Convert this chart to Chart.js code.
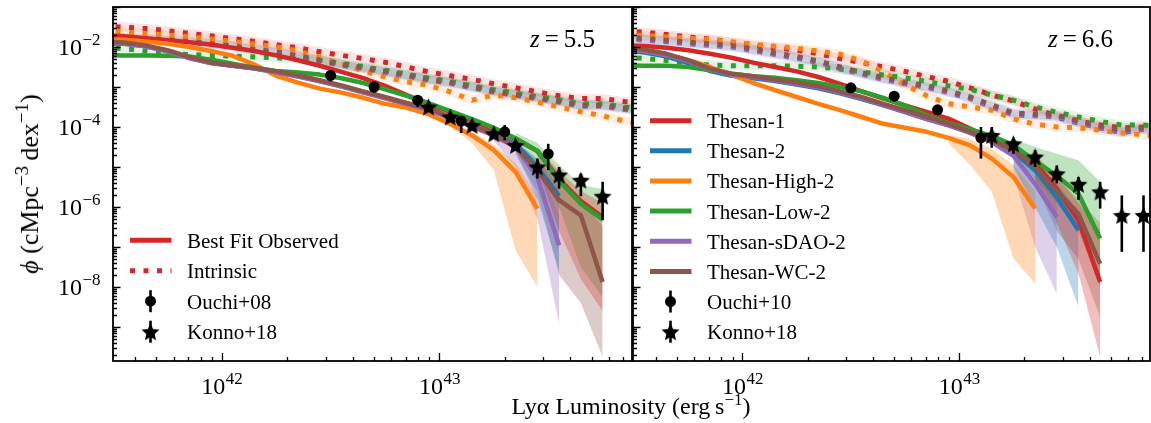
<!DOCTYPE html>
<html>
<head>
<meta charset="utf-8">
<script src="https://cdn.jsdelivr.net/npm/chart.js@4.4.0/dist/chart.umd.min.js"></script>
<style>
  body { margin: 0; background: #fff; }
  #fig { position: relative; width: 1151px; height: 423px; font-family: "Liberation Serif", "Times New Roman", serif; }
  #fig canvas { position: absolute; top: 0; }
  #c55 { left: 0; }
  #c66 { left: 632px; }
  #xtitle { position: absolute; left: 631px; top: 393px; transform: translateX(-50%); font-size: 24px; white-space: nowrap; }
  #xtitle sup { font-size: 17px; vertical-align: 9px; line-height: 0; }
  #ytitle { position: absolute; left: 30px; top: 184px; transform: translate(-50%, -50%) rotate(-90deg); font-size: 26px; white-space: nowrap; }
  #ytitle sup { font-size: 19px; vertical-align: 10px; line-height: 0; }
</style>
</head>
<body>
<div id="fig">
  <canvas id="c55" width="633" height="423"></canvas>
  <canvas id="c66" width="519" height="423"></canvas>
  <div id="xtitle">Ly&alpha; Luminosity (erg&#8201;s<sup>&minus;1</sup>)</div>
  <div id="ytitle"><i>&#981;</i> (cMpc<sup>&minus;3</sup>&#8201;dex<sup>&minus;1</sup>)</div>
</div>
<script>
// luminosity bin centres, log10(L / erg s^-1)
const logL = [41.45, 41.55, 41.65, 41.75, 41.85, 41.95, 42.05, 42.15, 42.25, 42.35, 42.45, 42.55, 42.65,
              42.75, 42.85, 42.95, 43.05, 43.15, 43.25, 43.35, 43.45, 43.55, 43.65, 43.75, 43.85, 43.95];
// bins where the scatter bands are wide
const bandL = [42.95, 43.05, 43.15, 43.25, 43.35, 43.45, 43.55, 43.65, 43.75];

const modelNames = ['Thesan-1', 'Thesan-2', 'Thesan-High-2', 'Thesan-Low-2', 'Thesan-sDAO-2', 'Thesan-WC-2'];
const modelColors = ['#d62728', '#1f77b4', '#ff7f0e', '#2ca02c', '#9467bd', '#8c564b'];
const redshifts = ['5.5', '6.6'];
const xLabelExps = [42, 43];
const yLabelExps = [-2, -4, -6, -8];

// ---- z = 5.5, observed LF, log10 phi ----
const obs55_1 = [-1.71, -1.73, -1.78, -1.83, -1.88, -1.94, -2.02, -2.1, -2.21, -2.33, -2.47, -2.62, -2.78, -2.97, -3.2, -3.42, -3.62, -3.84, -4.06, -4.3, -4.6, -5.3, -5.85, -6.25, null, null];
const obs55_2 = [-1.9, -1.92, -1.98, -2.1, -2.27, -2.4, -2.47, -2.54, -2.63, -2.73, -2.85, -2.98, -3.13, -3.27, -3.42, -3.55, -3.76, -3.97, -4.18, -4.42, -5.0, -5.73, null, null, null, null];
const obs55_3 = [-1.8, -1.82, -1.86, -1.92, -2.0, -2.1, -2.22, -2.44, -2.72, -2.89, -3.04, -3.14, -3.27, -3.42, -3.52, -3.68, -3.92, -4.21, -4.58, -5.12, -6.04, null, null, null, null, null];
const obs55_4 = [-2.2, -2.21, -2.21, -2.22, -2.24, -2.32, -2.42, -2.52, -2.6, -2.64, -2.69, -2.78, -2.9, -3.06, -3.22, -3.4, -3.6, -3.8, -4.02, -4.28, -4.6, -5.35, -5.92, -6.31, null, null];
const obs55_5 = [-1.88, -1.91, -1.98, -2.11, -2.28, -2.4, -2.47, -2.53, -2.63, -2.74, -2.86, -2.99, -3.14, -3.28, -3.43, -3.57, -3.78, -3.99, -4.22, -4.5, -5.25, -6.96, null, null, null, null];
const obs55_6 = [-1.86, -1.89, -1.96, -2.08, -2.25, -2.39, -2.46, -2.52, -2.61, -2.71, -2.83, -2.96, -3.11, -3.25, -3.4, -3.53, -3.75, -3.96, -4.17, -4.5, -5.08, -5.83, -6.21, -7.875, null, null];

// ---- z = 5.5, intrinsic LF ----
const int55_1 = [-1.48, -1.5, -1.54, -1.59, -1.66, -1.72, -1.79, -1.86, -1.94, -2.02, -2.12, -2.21, -2.29, -2.38, -2.5, -2.62, -2.72, -2.81, -2.92, -3.02, -3.12, -3.22, -3.29, -3.29, -3.36, -3.4];
const int55_2 = [-1.74, -1.76, -1.79, -1.82, -1.87, -1.92, -1.98, -2.06, -2.13, -2.23, -2.33, -2.43, -2.52, -2.61, -2.7, -2.79, -2.88, -2.98, -3.09, -3.18, -3.26, -3.35, -3.44, -3.45, -3.52, -3.58];
const int55_3 = [-1.6, -1.63, -1.66, -1.7, -1.74, -1.8, -1.86, -1.93, -2.0, -2.1, -2.26, -2.42, -2.6, -2.75, -2.87, -2.96, -3.12, -3.33, -3.2, -3.27, -3.38, -3.5, -3.62, -3.72, -3.85, -3.95];
const int55_4 = [-2.02, -2.04, -2.1, -2.15, -2.19, -2.21, -2.23, -2.25, -2.27, -2.3, -2.33, -2.41, -2.49, -2.58, -2.68, -2.78, -2.86, -2.97, -3.07, -3.15, -3.24, -3.32, -3.42, -3.42, -3.5, -3.55];
const int55_5 = [-1.77, -1.79, -1.81, -1.84, -1.88, -1.94, -2.0, -2.08, -2.15, -2.25, -2.35, -2.46, -2.54, -2.63, -2.73, -2.83, -2.91, -3.02, -3.13, -3.21, -3.29, -3.38, -3.48, -3.48, -3.56, -3.62];
const int55_6 = [-1.75, -1.77, -1.79, -1.82, -1.86, -1.92, -1.97, -2.06, -2.12, -2.22, -2.33, -2.44, -2.52, -2.61, -2.71, -2.81, -2.89, -3.0, -3.11, -3.19, -3.27, -3.36, -3.46, -3.46, -3.54, -3.6];

// ---- z = 5.5, scatter band (on bandL) ----
const hi55_1 = [null, null, null, null, null, -4.5, -5.1, -5.6, -5.9];
const lo55_1 = [null, null, null, null, null, -5.0, -6.6, -7.8, -8.6];
const hi55_2 = [null, null, null, null, -4.35, -4.8, -5.4, null, null];
const lo55_2 = [null, null, null, null, -4.6, -5.8, -7.6, null, null];
const hi55_3 = [-3.6, -3.85, -4.12, -4.45, -4.9, -5.75, null, null, null];
const lo55_3 = [-3.75, -4.0, -4.4, -5.08, -7.08, -8.0, null, null, null];
const hi55_4 = [null, null, null, null, -4.15, -4.4, -4.95, -5.45, -5.55];
const lo55_4 = [null, null, null, null, -4.45, -5.0, -6.0, -7.5, -8.25];
const hi55_5 = [null, null, null, -4.15, -4.4, -4.9, -6.2, null, null];
const lo55_5 = [null, null, null, -4.35, -5.0, -6.3, -8.92, null, null];
const hi55_6 = [null, null, null, null, -4.4, -4.8, -5.5, -5.8, -6.5];
const lo55_6 = [null, null, null, null, -4.7, -5.6, -7.7, -8.4, -9.75];

// ---- z = 6.6, observed LF ----
const obs66_1 = [-1.95, -1.975, -2.02, -2.08, -2.17, -2.27, -2.39, -2.5, -2.61, -2.75, -2.92, -3.11, -3.29, -3.46, -3.62, -3.79, -4.04, -4.3, -4.52, -4.9, -5.55, -6.33, -7.875, null, null, null];
const obs66_2 = [-2.08, -2.14, -2.24, -2.4, -2.6, -2.72, -2.78, -2.85, -2.94, -3.03, -3.16, -3.3, -3.46, -3.63, -3.8, -3.95, -4.12, -4.33, -4.62, -5.08, -5.75, -6.58, null, null, null, null];
const obs66_3 = [-2.03, -2.1, -2.2, -2.33, -2.5, -2.7, -2.9, -3.08, -3.25, -3.42, -3.58, -3.75, -3.92, -4.02, -4.12, -4.27, -4.46, -4.79, -5.25, -6.04, null, null, null, null, null, null];
const obs66_4 = [-2.46, -2.47, -2.47, -2.5, -2.58, -2.67, -2.73, -2.77, -2.83, -2.9, -3.0, -3.11, -3.27, -3.46, -3.71, -3.9, -4.06, -4.22, -4.45, -4.85, -5.22, -5.67, -6.79, null, null, null];
const obs66_5 = [-2.02, -2.1, -2.2, -2.36, -2.56, -2.69, -2.75, -2.83, -2.92, -3.01, -3.14, -3.28, -3.45, -3.62, -3.8, -3.96, -4.15, -4.38, -4.72, -5.42, -6.25, null, null, null, null, null];
const obs66_6 = [-2.0, -2.07, -2.17, -2.33, -2.54, -2.67, -2.73, -2.81, -2.89, -2.98, -3.11, -3.25, -3.42, -3.58, -3.75, -3.92, -4.12, -4.33, -4.58, -5.0, -5.6, -6.17, -7.42, null, null, null];

// ---- z = 6.6, intrinsic LF ----
const int66_1 = [-1.6, -1.63, -1.69, -1.75, -1.8, -1.88, -1.96, -2.02, -2.08, -2.17, -2.29, -2.39, -2.5, -2.61, -2.74, -2.86, -3.02, -3.2, -3.35, -3.55, -3.72, -3.85, -3.95, -4.02, -4.0, -4.05];
const int66_2 = [-1.77, -1.81, -1.85, -1.9, -1.94, -1.98, -2.07, -2.17, -2.26, -2.37, -2.52, -2.66, -2.79, -2.9, -2.99, -3.12, -3.27, -3.47, -3.66, -3.7, -3.76, -3.9, -4.02, -4.14, -4.06, -4.1];
const int66_3 = [-1.68, -1.72, -1.75, -1.78, -1.82, -1.87, -1.93, -1.98, -2.03, -2.1, -2.18, -2.35, -2.62, -2.95, -3.22, -3.42, -3.5, -3.58, -3.8, -3.93, -4.0, -4.02, -4.08, -4.15, -4.2, -4.22];
const int66_4 = [-2.25, -2.29, -2.34, -2.4, -2.45, -2.47, -2.47, -2.47, -2.48, -2.5, -2.55, -2.62, -2.7, -2.77, -2.86, -2.97, -3.06, -3.2, -3.33, -3.5, -3.63, -3.75, -3.86, -3.95, -3.95, -4.0];
const int66_5 = [-1.79, -1.83, -1.87, -1.92, -1.96, -2.0, -2.09, -2.19, -2.28, -2.39, -2.54, -2.68, -2.81, -2.92, -3.01, -3.14, -3.29, -3.5, -3.7, -3.72, -3.74, -3.89, -4.03, -4.12, -4.06, -4.1];
const int66_6 = [-1.75, -1.79, -1.83, -1.88, -1.92, -1.96, -2.05, -2.15, -2.24, -2.35, -2.5, -2.64, -2.77, -2.88, -2.97, -3.1, -3.25, -3.45, -3.65, -3.68, -3.7, -3.85, -3.98, -4.08, -4.02, -4.05];

// ---- z = 6.6, scatter band (on bandL) ----
const hi66_1 = [null, null, null, null, -4.7, -5.2, -5.9, -6.6, null];
const lo66_1 = [null, null, null, null, -5.3, -6.4, -7.67, -9.75, null];
const hi66_2 = [null, null, null, -4.5, -4.9, -5.4, -6.1, null, null];
const lo66_2 = [null, null, null, -5.0, -6.0, -7.0, -8.5, null, null];
const hi66_3 = [-4.2, -4.3, -4.55, -4.95, -5.6, null, null, null, null];
const lo66_3 = [-4.4, -4.95, -5.62, -7.29, -7.92, null, null, null, null];
const hi66_4 = [null, null, null, -4.3, -4.5, -4.67, -4.83, -5.37, null];
const lo66_4 = [null, null, null, -4.7, -5.3, -5.9, -6.6, -8.0, null];
const hi66_5 = [null, null, null, -4.6, -5.1, -5.7, null, null, null];
const lo66_5 = [null, null, null, -5.2, -7.0, -8.17, null, null, null];
const hi66_6 = [null, null, null, null, -4.8, -5.3, -5.8, -6.4, null];
const lo66_6 = [null, null, null, null, -5.4, -6.6, -7.3, -8.75, null];

// ---- observations (log10 L, log10 phi, error-bar ends) ----
const ouchi08L = [42.5, 42.7, 42.9, 43.1, 43.3, 43.5];
const ouchi08Phi = [-2.71, -3.0, -3.33, -3.85, -4.12, -4.67];
const ouchi08Hi = [-2.58, -2.86, -3.21, -3.78, -3.95, -4.42];
const ouchi08Lo = [-2.86, -3.14, -3.5, -4.15, -4.33, -5.08];

const konno57L = [42.95, 43.05, 43.15, 43.25, 43.35, 43.45, 43.55, 43.65, 43.75];
const konno57Phi = [-3.5, -3.75, -3.96, -4.17, -4.46, -5.0, -5.2, -5.33, -5.73];
const konno57Hi = [-3.42, -3.67, -3.88, -4.08, -4.36, -4.79, -5.0, -5.17, -5.37];
const konno57Lo = [-3.58, -3.84, -4.05, -4.27, -4.58, -5.29, -5.54, -5.73, -6.33];

const ouchi10L = [42.5, 42.7, 42.9, 43.1];
const ouchi10Phi = [-3.02, -3.23, -3.57, -4.27];
const ouchi10Hi = [-3.0, -3.21, -3.55, -4.0];
const ouchi10Lo = [-3.04, -3.25, -3.59, -4.79];

const konno66L = [43.15, 43.25, 43.35, 43.45, 43.55, 43.65, 43.75, 43.85];
const konno66Phi = [-4.21, -4.42, -4.75, -5.17, -5.43, -5.62, -6.21, -6.21];
const konno66Hi = [-4.0, -4.33, -4.58, -4.96, -5.25, -5.37, -5.71, -5.71];
const konno66Lo = [-4.52, -4.67, -5.0, -5.41, -5.82, -6.04, -7.12, -7.12];

const FONT = '"Liberation Serif", "Times New Roman", serif';

function pts(xs, ys) {
  const out = [];
  ys.forEach((v, i) => { if (v !== null) out.push({ x: 10 ** xs[i], y: 10 ** v }); });
  return out;
}

function rgba(hex, a) {
  const n = parseInt(hex.slice(1), 16);
  return `rgba(${n >> 16},${(n >> 8) & 255},${n & 255},${a})`;
}

// filled five-point star used as marker
function makeStar(r) {
  const c = document.createElement('canvas');
  const s = Math.ceil(2 * r + 2);
  c.width = c.height = s;
  const g = c.getContext('2d');
  g.translate(s / 2, s / 2 + 0.9);
  g.beginPath();
  for (let i = 0; i < 10; i++) {
    const rr = i % 2 ? r * 0.46 : r;
    const a = -Math.PI / 2 + i * Math.PI / 5;
    g.lineTo(rr * Math.cos(a), rr * Math.sin(a));
  }
  g.closePath();
  g.fillStyle = '#000';
  g.fill();
  return c;
}
const starImg = makeStar(9.5);

function buildDatasets(obsRows, intRows, hiRows, loRows, circ, stars) {
  const sets = [];
  modelColors.forEach((c, m) => {
    sets.push({ data: pts(bandL, hiRows[m]), borderWidth: 0, borderColor: 'transparent',
                backgroundColor: rgba(c, 0.3), fill: '+1', pointRadius: 0, order: 300, clip: 0 });
    sets.push({ data: pts(bandL, loRows[m]), borderWidth: 0, borderColor: 'transparent',
                fill: false, pointRadius: 0, order: 300, clip: 0 });
  });
  modelColors.forEach((c, m) => {
    // faint spread around the intrinsic curve
    sets.push({ data: pts(logL, intRows[m]), borderColor: rgba(c, 0.12), borderWidth: 9,
                borderJoinStyle: 'round', pointRadius: 0, fill: false, order: 250, clip: 0 });
    sets.push({ data: pts(logL, intRows[m]), borderColor: c, borderWidth: 5, borderDash: [5, 8.5],
                borderCapStyle: 'butt', pointRadius: 0, fill: false, order: 200 - m, clip: 0 });
  });
  modelColors.forEach((c, m) => {
    sets.push({ data: pts(logL, obsRows[m]), borderColor: c, borderWidth: 4.5, borderJoinStyle: 'round',
                pointRadius: 0, fill: false, order: 100 - m, clip: 0 });
  });
  sets.push({ data: pts(circ.L, circ.phi), showLine: false, pointStyle: 'circle', pointRadius: 5.5,
              pointBackgroundColor: '#000', pointBorderWidth: 0, order: 1, clip: 0,
              errHi: circ.hi.map(v => 10 ** v), errLo: circ.lo.map(v => 10 ** v) });
  sets.push({ data: pts(stars.L, stars.phi), showLine: false, pointStyle: starImg, pointRadius: 9,
              order: 0, clip: 0,
              errHi: stars.hi.map(v => 10 ** v), errLo: stars.lo.map(v => 10 ** v) });
  return sets;
}

// vertical error bars drawn just before their markers
const errorBars = {
  id: 'errorBars',
  beforeDatasetDraw(chart, args) {
    const ds = chart.data.datasets[args.index];
    if (!ds.errLo) return;
    const { ctx, chartArea: a, scales: { x, y } } = chart;
    ctx.save();
    ctx.beginPath();
    ctx.rect(a.left, a.top, a.right - a.left, a.bottom - a.top);
    ctx.clip();
    ctx.strokeStyle = '#000';
    ctx.lineWidth = 2.6;
    ds.data.forEach((p, i) => {
      const px = x.getPixelForValue(p.x);
      ctx.beginPath();
      ctx.moveTo(px, y.getPixelForValue(ds.errHi[i]));
      ctx.lineTo(px, y.getPixelForValue(ds.errLo[i]));
      ctx.stroke();
    });
    ctx.restore();
  }
};

function drawPow(ctx, exp, x, baseY, align) {
  const base = '10';
  const sup = exp < 0 ? '\u2212' + (-exp) : String(exp);
  ctx.font = `24px ${FONT}`;
  const wb = ctx.measureText(base).width;
  ctx.font = `17px ${FONT}`;
  const ws = ctx.measureText(sup).width;
  const x0 = align === 'right' ? x - wb - ws : x - (wb + ws) / 2;
  ctx.textAlign = 'left';
  ctx.font = `24px ${FONT}`;
  ctx.fillText(base, x0, baseY);
  ctx.font = `17px ${FONT}`;
  ctx.fillText(sup, x0 + wb + 0.5, baseY - 10.5);
}

// frame, inward ticks, tick labels and the redshift tag
const panelAxes = {
  id: 'panelAxes',
  afterDraw(chart, args, opts) {
    const { ctx, chartArea: a, scales: { x, y } } = chart;
    ctx.save();
    ctx.strokeStyle = '#000';
    ctx.fillStyle = '#000';
    ctx.lineWidth = 1.3;
    ctx.beginPath();
    for (let d = -11; d <= 0; d++) {
      for (let m = 1; m <= 9; m++) {
        const v = m * 10 ** d;
        if (v < y.min || v > y.max) continue;
        const py = Math.round(y.getPixelForValue(v)) + 0.5;
        const len = m === 1 ? 7.5 : 4;
        ctx.moveTo(a.left, py);
        ctx.lineTo(a.left + len, py);
      }
    }
    for (let d = 41; d <= 44; d++) {
      for (let m = 1; m <= 9; m++) {
        const v = m * 10 ** d;
        if (v < x.min || v > x.max) continue;
        const px = Math.round(x.getPixelForValue(v)) + 0.5;
        const len = m === 1 ? 8 : 4;
        ctx.moveTo(px, a.bottom);
        ctx.lineTo(px, a.bottom - len);
      }
    }
    ctx.stroke();
    ctx.lineWidth = 1.8;
    ctx.strokeRect(a.left, a.top, a.right - a.left, a.bottom - a.top);

    ctx.textBaseline = 'alphabetic';
    xLabelExps.forEach(e => drawPow(ctx, e, x.getPixelForValue(10 ** e), a.bottom + 33, 'center'));
    if (opts.yLabels) {
      yLabelExps.forEach(e => drawPow(ctx, e, a.left - 13, y.getPixelForValue(10 ** e) + 8, 'right'));
    }

    // z = ...
    ctx.textAlign = 'left';
    ctx.font = `25px ${FONT}`;
    const num = opts.z;
    const wNum = ctx.measureText(num).width;
    const wEq = ctx.measureText('=').width;
    const xr = a.right - 37;
    const by = a.top + 40;
    ctx.fillText(num, xr - wNum, by);
    ctx.fillText('=', xr - wNum - 5 - wEq, by);
    ctx.font = `italic 25px ${FONT}`;
    const wz = ctx.measureText('z').width;
    ctx.fillText('z', xr - wNum - 5 - wEq - 5 - wz, by);
    ctx.restore();
  }
};

const panelLegend = {
  id: 'panelLegend',
  afterDraw(chart, args, opts) {
    const { ctx, chartArea: a } = chart;
    const n = opts.items.length;
    ctx.save();
    opts.items.forEach((it, i) => {
      const yy = 331.7 - (n - 1 - i) * opts.step;
      const x0 = a.left + 17, x1 = a.left + 58.5, xm = a.left + 37.5;
      if (it.kind === 'line' || it.kind === 'dots') {
        ctx.strokeStyle = it.color;
        ctx.lineWidth = 5;
        ctx.lineCap = 'butt';
        ctx.setLineDash(it.kind === 'dots' ? [5, 8.5] : []);
        ctx.beginPath();
        ctx.moveTo(x0, yy);
        ctx.lineTo(x1, yy);
        ctx.stroke();
      } else {
        ctx.setLineDash([]);
        ctx.strokeStyle = '#000';
        ctx.lineWidth = 2.6;
        ctx.beginPath();
        ctx.moveTo(xm, yy - 11);
        ctx.lineTo(xm, yy + 11);
        ctx.stroke();
        ctx.fillStyle = '#000';
        if (it.kind === 'circle') {
          ctx.beginPath();
          ctx.arc(xm, yy, 5.5, 0, 2 * Math.PI);
          ctx.fill();
        } else {
          ctx.drawImage(starImg, xm - starImg.width / 2, yy - starImg.height / 2);
        }
      }
      ctx.fillStyle = '#000';
      ctx.font = `21px ${FONT}`;
      ctx.textAlign = 'left';
      ctx.textBaseline = 'alphabetic';
      ctx.fillText(it.label, a.left + 74, yy + 7.5);
    });
    ctx.restore();
  }
};

function makePanel(id, datasets, xmin, xmax, pad, axesOpts, legendOpts) {
  return new Chart(document.getElementById(id), {
    type: 'line',
    data: { datasets },
    options: {
      responsive: false,
      animation: false,
      events: [],
      layout: { padding: pad, autoPadding: false },
      elements: { line: { tension: 0 } },
      scales: {
        x: { type: 'logarithmic', display: false, min: 10 ** xmin, max: 10 ** xmax },
        y: { type: 'logarithmic', display: false, min: 10 ** -9.85, max: 10 ** -1 }
      },
      plugins: {
        legend: { display: false },
        tooltip: { enabled: false },
        panelAxes: axesOpts,
        panelLegend: legendOpts
      }
    },
    plugins: [errorBars, panelAxes, panelLegend]
  });
}

makePanel('c55',
  buildDatasets(
    [obs55_1, obs55_2, obs55_3, obs55_4, obs55_5, obs55_6],
    [int55_1, int55_2, int55_3, int55_4, int55_5, int55_6],
    [hi55_1, hi55_2, hi55_3, hi55_4, hi55_5, hi55_6],
    [lo55_1, lo55_2, lo55_3, lo55_4, lo55_5, lo55_6],
    { L: ouchi08L, phi: ouchi08Phi, hi: ouchi08Hi, lo: ouchi08Lo },
    { L: konno57L, phi: konno57Phi, hi: konno57Hi, lo: konno57Lo }),
  41.5, 43.885,
  { left: 113, right: 1, top: 7, bottom: 62 },
  { yLabels: true, z: redshifts[0] },
  { step: 30.5, items: [
    { kind: 'line', color: modelColors[0], label: 'Best Fit Observed' },
    { kind: 'dots', color: modelColors[0], label: 'Intrinsic' },
    { kind: 'circle', label: 'Ouchi+08' },
    { kind: 'star', label: 'Konno+18' }
  ] });

makePanel('c66',
  buildDatasets(
    [obs66_1, obs66_2, obs66_3, obs66_4, obs66_5, obs66_6],
    [int66_1, int66_2, int66_3, int66_4, int66_5, int66_6],
    [hi66_1, hi66_2, hi66_3, hi66_4, hi66_5, hi66_6],
    [lo66_1, lo66_2, lo66_3, lo66_4, lo66_5, lo66_6],
    { L: ouchi10L, phi: ouchi10Phi, hi: ouchi10Hi, lo: ouchi10Lo },
    { L: konno66L, phi: konno66Phi, hi: konno66Hi, lo: konno66Lo }),
  41.495, 43.88,
  { left: 1, right: 1, top: 7, bottom: 62 },
  { yLabels: false, z: redshifts[1] },
  { step: 30.15, items: modelNames.map((nm, i) => ({ kind: 'line', color: modelColors[i], label: nm }))
      .concat([{ kind: 'circle', label: 'Ouchi+10' }, { kind: 'star', label: 'Konno+18' }]) });
</script>
</body>
</html>
